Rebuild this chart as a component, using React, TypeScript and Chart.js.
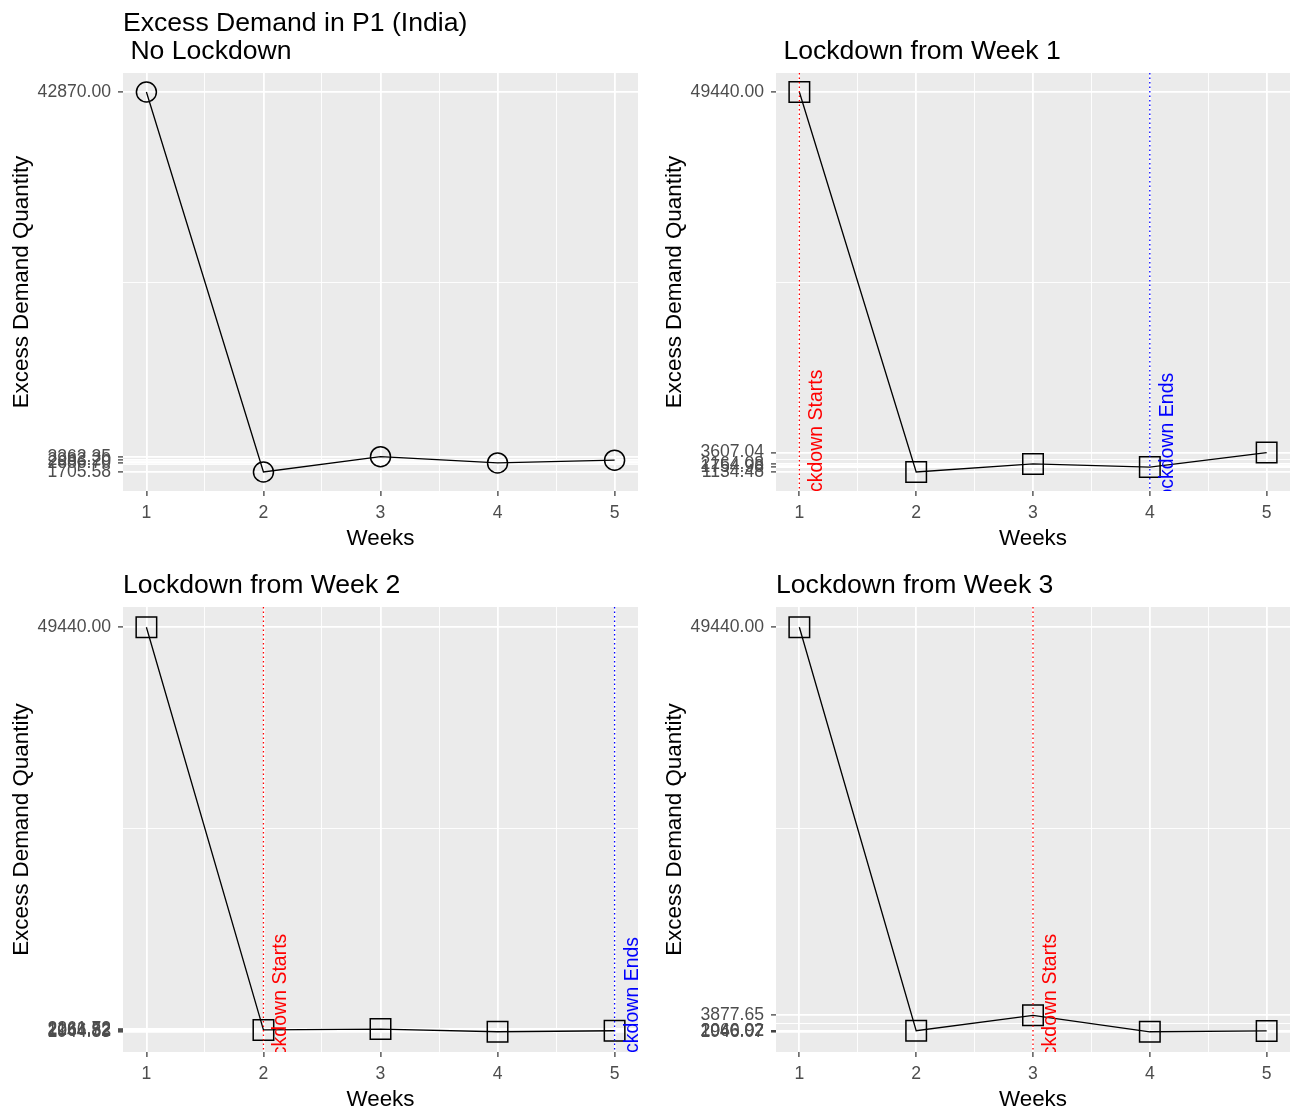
import React, { useEffect, useRef } from "react";
import { Chart, registerables } from "chart.js";

Chart.register(...registerables);

// ---- data ----
const weeks = [1, 2, 3, 4, 5];
const noLockdown = [42870.0, 1705.58, 3362.35, 2686.7, 2983.2];
const lockdownWeek1 = [49440.0, 1134.48, 2164.08, 1754.98, 3607.04];
const lockdownWeek2 = [49440.0, 2166.52, 2261.72, 1944.83, 2064.82];
const lockdownWeek3 = [49440.0, 2066.92, 3877.65, 1946.07, 2040.02];
const panelTitles = [
  "Excess Demand in P1 (India)\n No Lockdown",
  "\n Lockdown from Week 1",
  "Lockdown from Week 2",
  "Lockdown from Week 3",
];
const lockdownStarts: (number | null)[] = [null, 1, 2, 3];
const lockdownEnds: (number | null)[] = [null, 4, 5, 6];
const startLabel = "Lockdown Starts";
const endLabel = "Lockdown Ends";
const labelY = 5000;
const labelOffset = 0.15;
const xTitle = "Weeks";
const yTitle = "Excess Demand Quantity";

const FONT = '"Liberation Sans", Arial, sans-serif';

type Box = { left: number; top: number; width: number; height: number };
type Area = { yWidth: number; top: number; right: number; bottom: number };

function midpoints(vals: number[]): number[] {
  const out: number[] = [];
  for (let i = 0; i < vals.length - 1; i++) out.push((vals[i] + vals[i + 1]) / 2);
  return out;
}

function Panel(props: {
  values: number[];
  marker: "circle" | "rect";
  title: string;
  start: number | null;
  end: number | null;
  box: Box;
  area: Area;
}) {
  const ref = useRef<HTMLCanvasElement | null>(null);
  useEffect(() => {
    const { values, marker, title, start, end, area } = props;
    const lo = Math.min(...values);
    const hi = Math.max(...values);
    const pad = (hi - lo) * 0.05;
    const minorY = midpoints(values);
    const minorX = midpoints(weeks);

    const plugin = {
      id: "ggpanel",
      beforeDraw(chart: any) {
        const { ctx, chartArea: a } = chart;
        ctx.save();
        ctx.fillStyle = "#EBEBEB";
        ctx.fillRect(a.left, a.top, a.right - a.left, a.bottom - a.top);
        ctx.restore();
      },
      afterDatasetsDraw(chart: any) {
        const { ctx, chartArea: a, scales } = chart;
        const xs = scales.x;
        const ys = scales.y;
        ctx.save();
        ctx.beginPath();
        ctx.rect(a.left, a.top, a.right - a.left, a.bottom - a.top);
        ctx.clip();
        const drawV = (wk: number | null, color: string, label: string) => {
          if (wk == null) return;
          const px = xs.getPixelForValue(wk);
          ctx.strokeStyle = color;
          ctx.lineWidth = 1.3;
          ctx.setLineDash([1.5, 3]);
          ctx.beginPath();
          ctx.moveTo(px, a.top);
          ctx.lineTo(px, a.bottom);
          ctx.stroke();
          ctx.setLineDash([]);
          const tx = xs.getPixelForValue(wk + labelOffset);
          const ty = ys.getPixelForValue(labelY);
          ctx.save();
          ctx.translate(tx, ty);
          ctx.rotate(-Math.PI / 2);
          ctx.font = `19.5px ${FONT}`;
          ctx.fillStyle = color;
          ctx.textAlign = "center";
          ctx.textBaseline = "middle";
          ctx.fillText(label, 0, 0);
          ctx.restore();
        };
        drawV(start, "red", startLabel);
        drawV(end, "blue", endLabel);
        ctx.restore();
      },
      afterDraw(chart: any) {
        const { ctx, chartArea: a } = chart;
        ctx.save();
        ctx.fillStyle = "#000000";
        // title
        ctx.font = `26.6px ${FONT}`;
        ctx.textAlign = "left";
        ctx.textBaseline = "alphabetic";
        const lines = title.split("\n");
        const lastBase = a.top - 14.5;
        lines.forEach((ln, i) => {
          ctx.fillText(ln, a.left, lastBase - (lines.length - 1 - i) * 28);
        });
        // x title
        ctx.font = `22.4px ${FONT}`;
        ctx.textAlign = "center";
        ctx.fillText(xTitle, (a.left + a.right) / 2, a.bottom + 54);
        // y title
        ctx.save();
        ctx.translate(a.left - 95, (a.top + a.bottom) / 2);
        ctx.rotate(-Math.PI / 2);
        ctx.fillText(yTitle, 0, 0);
        ctx.restore();
        ctx.restore();
      },
    };

    const gridCommon = {
      color: "#FFFFFF",
      lineWidth: (c: any) => (c.tick && c.tick.minor ? 0.9 : 1.8),
      tickColor: (c: any) => (c.tick && c.tick.minor ? "rgba(0,0,0,0)" : "#333333"),
      tickLength: 5,
      tickWidth: 1.2,
      drawTicks: true,
    };

    const chart = new Chart(ref.current as HTMLCanvasElement, {
      type: "line",
      data: {
        datasets: [
          {
            data: weeks.map((w, i) => ({ x: w, y: values[i] })),
            borderColor: "#000000",
            borderWidth: 1.3,
            tension: 0,
            pointStyle: marker,
            pointRadius: marker === "circle" ? 10 : 14.5,
            pointBorderWidth: 1.5,
            pointBorderColor: "#000000",
            pointBackgroundColor: "rgba(0,0,0,0)",
            clip: false as any,
          },
        ],
      },
      options: {
        responsive: false,
        maintainAspectRatio: false,
        animation: false,
        events: [],
        layout: {
          autoPadding: false,
          padding: { left: 0, top: area.top, right: area.right, bottom: area.bottom },
        },
        plugins: {
          legend: { display: false },
          tooltip: { enabled: false },
          title: { display: false },
        },
        scales: {
          x: {
            type: "linear",
            min: 0.8,
            max: 5.2,
            border: { display: false },
            grid: gridCommon as any,
            ticks: {
              autoSkip: false,
              maxRotation: 0,
              color: "#4D4D4D",
              font: { family: FONT, size: 17.6 },
              padding: 7,
              callback: (v: any, i: number, ts: any[]) => (ts[i] && ts[i].minor ? "" : String(v)),
            },
            afterBuildTicks: (s: any) => {
              s.ticks = [
                ...weeks.map((v) => ({ value: v })),
                ...minorX.map((v) => ({ value: v, minor: true })),
              ];
            },
            afterFit: (s: any) => {
              s.height = 40;
              s.paddingLeft = 0;
              s.paddingRight = 0;
            },
          },
          y: {
            type: "linear",
            min: lo - pad,
            max: hi + pad,
            border: { display: false },
            grid: gridCommon as any,
            ticks: {
              autoSkip: false,
              color: "#4D4D4D",
              font: { family: FONT, size: 17.6 },
              padding: 7,
              callback: (v: any, i: number, ts: any[]) =>
                ts[i] && ts[i].minor ? "" : Number(v).toFixed(2),
            },
            afterBuildTicks: (s: any) => {
              s.ticks = [
                ...values.map((v) => ({ value: v })),
                ...minorY.map((v) => ({ value: v, minor: true })),
              ];
            },
            afterFit: (s: any) => {
              s.width = area.yWidth;
              s.paddingTop = 0;
              s.paddingBottom = 0;
            },
          },
        },
      } as any,
      plugins: [plugin],
    });
    return () => chart.destroy();
  }, []);
  const { box } = props;
  return (
    <canvas
      ref={ref}
      width={box.width}
      height={box.height}
      style={{ position: "absolute", left: box.left, top: box.top, width: box.width, height: box.height }}
    />
  );
}

export default function App() {
  const topArea: Area = { yWidth: 123, top: 73, right: 9, bottom: 557 - 491 - 40 };
  const botArea: Area = { yWidth: 123, top: 50, right: 9, bottom: 558 - 495 - 40 };
  const topArea2: Area = { ...topArea, right: 5 };
  const botArea2: Area = { ...botArea, right: 5 };
  return (
    <div
      style={{
        position: "absolute",
        left: 0,
        top: 0,
        width: 1295,
        height: 1115,
        background: "#FFFFFF",
        overflow: "hidden",
      }}
    >
      <Panel
        values={noLockdown}
        marker="circle"
        title={panelTitles[0]}
        start={lockdownStarts[0]}
        end={lockdownEnds[0]}
        box={{ left: 0, top: 0, width: 647, height: 557 }}
        area={topArea}
      />
      <Panel
        values={lockdownWeek1}
        marker="rect"
        title={panelTitles[1]}
        start={lockdownStarts[1]}
        end={lockdownEnds[1]}
        box={{ left: 653, top: 0, width: 642, height: 557 }}
        area={topArea2}
      />
      <Panel
        values={lockdownWeek2}
        marker="rect"
        title={panelTitles[2]}
        start={lockdownStarts[2]}
        end={lockdownEnds[2]}
        box={{ left: 0, top: 557, width: 647, height: 558 }}
        area={botArea}
      />
      <Panel
        values={lockdownWeek3}
        marker="rect"
        title={panelTitles[3]}
        start={lockdownStarts[3]}
        end={lockdownEnds[3]}
        box={{ left: 653, top: 557, width: 642, height: 558 }}
        area={botArea2}
      />
    </div>
  );
}
